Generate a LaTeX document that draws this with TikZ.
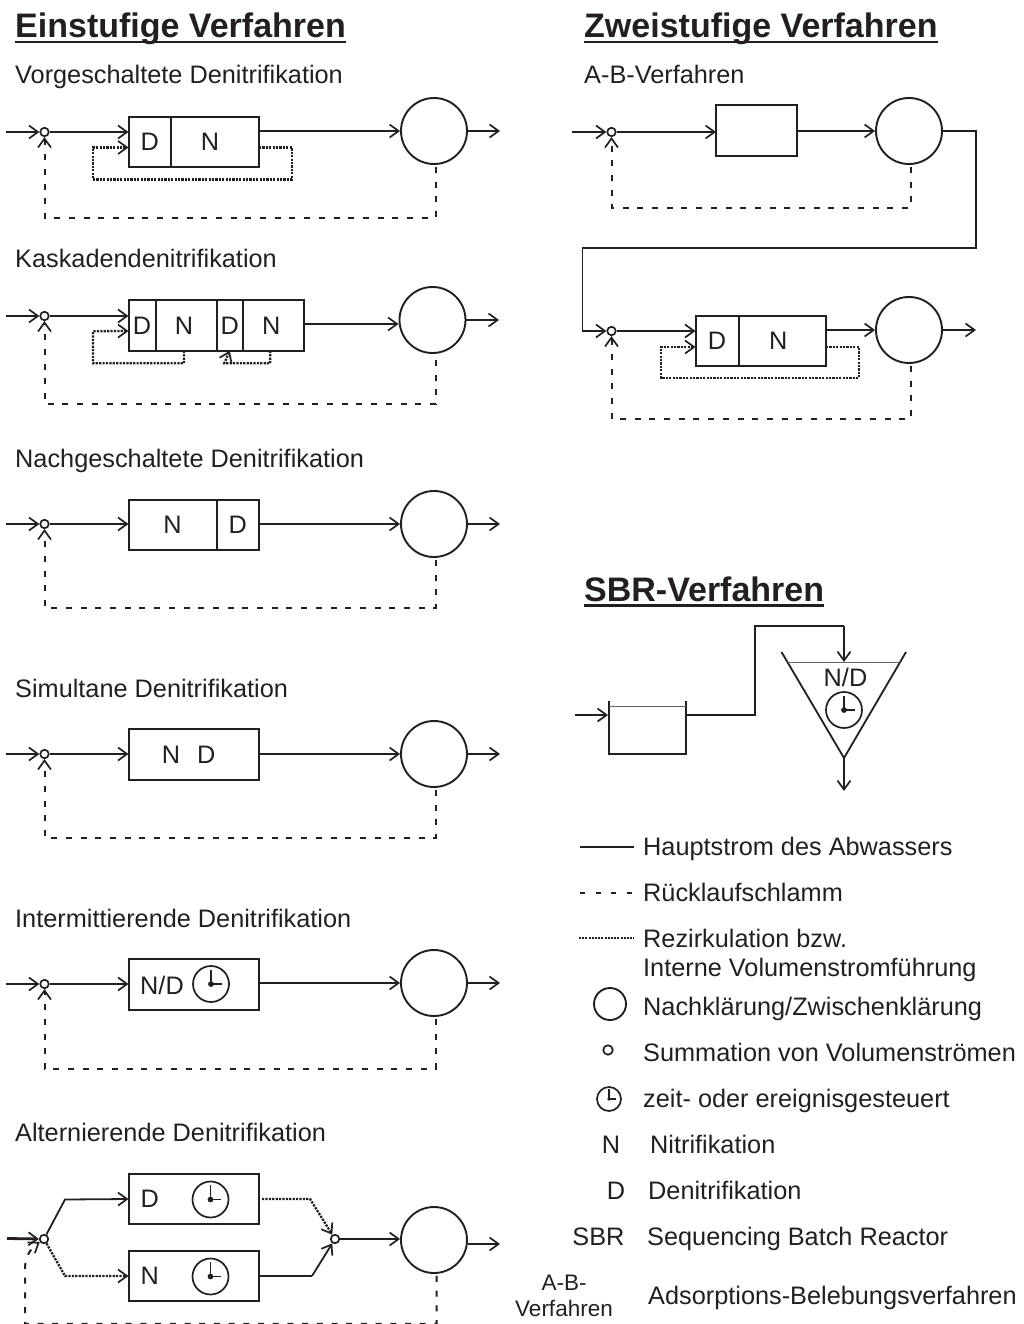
\documentclass[tikz,border=0pt]{standalone}
\usepackage{fontspec}
\setmainfont{Liberation Sans}
\usetikzlibrary{arrows.meta,positioning}
\definecolor{ink}{HTML}{231F20}
\newcommand{\ttlrule}[1]{\setbox0=\hbox{\bfseries #1}\rlap{\copy0}\rule[-5.5pt]{\wd0}{2.8pt}}

\begin{document}
\begin{tikzpicture}[
  x=1pt, y=-1pt,
  color=ink,
  font=\fontsize{25.3}{29}\selectfont,
  cell/.style={draw, minimum height=50.5pt, inner sep=0pt, outer sep=0pt, line width=2pt},
  sumpt/.style={draw, circle, inner sep=0pt, minimum size=8.5pt, line width=1.7pt},
  clarif/.style={draw, circle, inner sep=0pt, minimum size=66pt, line width=1.9pt},
  clock/.style={draw, circle, inner sep=0pt, minimum size=2*#1, line width=1.7pt,
    path picture={\draw[line width=1.6pt] ([yshift=.8*#1]path picture bounding box.center)
      -- (path picture bounding box.center) -- ++(.6*#1,0);
      \fill (path picture bounding box.center) circle (.16*#1);}},
  clock/.default=18pt,
  txt/.style={anchor=base west, inner sep=0pt},
  ttl/.style={anchor=base west, inner sep=0pt, font=\fontsize{34}{40}\selectfont},
  main/.style={line width=1.8pt},
  heavy/.style={line width=2.8pt},
  ret/.style={line width=2pt, dash pattern=on 6pt off 8.7pt},
  rez/.style={line width=2.3pt, dash pattern=on 2.2pt off 1.2pt},
  >={Straight Barb[length=9pt,width=13pt,line width=1.7pt]}
]
\useasboundingbox (0,0) rectangle (1024,1324);

\node[ttl] (einst) at (15,38) {\ttlrule{Einstufige Verfahren}};
\node[ttl] (zweist) at (584,38) {\ttlrule{Zweistufige Verfahren}};
\node[ttl] (sbrt) at (584,601) {\ttlrule{SBR-Verfahren}};

% vorgeschaltet
\node[txt] (t1) at (15,84) {Vorgeschaltete Denitrifikation};
\coordinate (in1) at (6,132);
\node[sumpt] (sum1) at (44.5,132) {};
\node[cell, minimum width=42.5pt, anchor=west] (d1) at (128.5,142) {D};
\node[cell, minimum width=88pt, right=0pt of d1] (n1) {N\kern10pt};
\node[clarif] (cl1) at (434,131) {};
\coordinate (out1) at (500,131);
\draw[main,->] (in1) -- (sum1);
\draw[main,->] (sum1) -- (sum1 -| d1.west);
\draw[main,->] (n1.east |- cl1.west) -- (cl1.west);
\draw[main,->] (cl1.east) -- (out1);
\draw[ret,->] ([xshift=1.5pt,yshift=-2pt]cl1.south) -- ++(0,51) -| (sum1.south);
\draw[rez,->] ([yshift=-5.5pt]n1.east) -- ++(33,0) -- ++(0,32) -- ++(-199,0) -- ++(0,-32) -- ([yshift=-5.5pt]d1.west);

% kaskade
\node[txt] (t2) at (15,268) {Kaskadendenitrifikation};
\coordinate (in2) at (6,316);
\node[sumpt] (sum2) at (44.5,316) {};
\node[cell, minimum width=27pt, anchor=west] (d2a) at (128.5,325.5) {D};
\node[cell, minimum width=61pt, right=0pt of d2a] (n2a) {N\kern4pt};
\node[cell, minimum width=26.5pt, right=0pt of n2a] (d2b) {D};
\node[cell, minimum width=60.5pt, right=0pt of d2b] (n2b) {N\kern4pt};
\node[clarif] (cl2) at (432.5,320) {};
\coordinate (out2) at (499,320);
\draw[heavy,->] (in2) -- (sum2);
\draw[main,->] (sum2) -- (sum2 -| d2a.west);
\draw[main,->] ([yshift=1.5pt]n2b.east) -- ([yshift=1.5pt]cl2.west |- n2b.east);
\draw[main,->] (cl2.east) -- (out2);
\draw[ret,->] ([xshift=3pt,yshift=-6pt]cl2.south) -- ++(0,44.5) -| (sum2.south);
\draw[rez,->] ([xshift=-2pt]n2a.south) -- ++(0,12.5) -- ++(-91,0) -- ++(0,-32) -- ([yshift=-5.5pt]d2a.west);
\draw[rez,->] ([xshift=-3pt]n2b.south) -- ++(0,12.5) -- ++(-46,0) -- (d2b.south);

% nachgeschaltet
\node[txt] (t3) at (15,467) {Nachgeschaltete Denitrifikation};
\coordinate (in3) at (6,524);
\node[sumpt] (sum3) at (44.5,524) {};
\node[cell, minimum width=88pt, anchor=west] (n3) at (128.5,525) {N};
\node[cell, minimum width=42.5pt, right=0pt of n3] (d3) {D};
\node[clarif] (cl3) at (434,524) {};
\coordinate (out3) at (500,524);
\draw[main,->] (in3) -- (sum3);
\draw[main,->] (sum3) -- (sum3 -| n3.west);
\draw[main,->] (d3.east |- cl3.west) -- (cl3.west);
\draw[main,->] (cl3.east) -- (out3);
\draw[ret,->] ([xshift=1.5pt,yshift=-2pt]cl3.south) -- ++(0,48) -| (sum3.south);

% simultan
\node[txt] (t4) at (15,697) {Simultane Denitrifikation};
\coordinate (in4) at (6,754);
\node[sumpt] (sum4) at (44.5,754) {};
\node[cell, minimum width=130.5pt, anchor=west] (nd4) at (128.5,754.5) {N\hspace{17pt}D\kern10pt};
\node[clarif] (cl4) at (434,754) {};
\coordinate (out4) at (500,754);
\draw[main,->] (in4) -- (sum4);
\draw[main,->] (sum4) -- (sum4 -| nd4.west);
\draw[main,->] (nd4.east |- cl4.west) -- (cl4.west);
\draw[main,->] (cl4.east) -- (out4);
\draw[ret,->] ([xshift=1.5pt,yshift=-2pt]cl4.south) -- ++(0,48) -| (sum4.south);

% intermittierend
\node[txt] (t5) at (15,927) {Intermittierende Denitrifikation};
\coordinate (in5) at (6,984);
\node[sumpt] (sum5) at (44.5,984) {};
\node[cell, minimum width=130.5pt, anchor=west] (nd5) at (128.5,984.5) {};
\node (ndt5) at (162,985) {N/D};
\node[clock] (clk5) at (211,984) {};
\node[clarif] (cl5) at (434,983) {};
\coordinate (out5) at (500,983);
\draw[main,->] (in5) -- (sum5);
\draw[main,->] (sum5) -- (sum5 -| nd5.west);
\draw[main,->] (nd5.east |- cl5.west) -- (cl5.west);
\draw[main,->] (cl5.east) -- (out5);
\draw[ret,->] ([xshift=1.5pt,yshift=-2pt]cl5.south) -- ++(0,50) -| (sum5.south);

% alternierend
\node[txt] (t6) at (15,1141) {Alternierende Denitrifikation};
\coordinate (in6) at (7,1238.5);
\node[sumpt] (sum6) at (44,1239) {};
\node[sumpt] (sum6b) at (335,1239) {};
\node[cell, minimum width=130.5pt, anchor=west] (d6) at (128.5,1199) {D\kern88pt};
\node[cell, minimum width=130.5pt, anchor=west] (n6) at (128.5,1276) {N\kern88pt};
\node[clock] (clk6a) at (210.5,1199.5) {};
\node[clock] (clk6b) at (210.5,1276.5) {};
\node[clarif] (cl6) at (434,1240) {};
\coordinate (out6) at (500,1244);
\draw[heavy,->] (in6) -- (sum6);
\draw[main,->] (sum6) -- ++(21,-39.5) -- (d6.west);
\draw[rez,->] (sum6) -- ++(21,37) -- (n6.west);
\draw[rez,->] ([xshift=3pt]d6.east) -- ++(48,0) -- (sum6b);
\draw[heavy] (n6.east) -- ++(53,0) coordinate (bend6);
\draw[main,->] (bend6) -- (sum6b);
\draw[heavy,->] (sum6b) -- (cl6.west |- sum6b);
\draw[main,->] ([yshift=-4pt]cl6.east) -- (out6);
\draw[ret,->] ([xshift=2.5pt,yshift=-2pt]cl6.south) -- ++(0,48) -- ++(-411.5,0) -- ++(0,-55)
  .. controls ++(0,-9) and (28,1250) .. (sum6);

% zweistufig
\node[txt] (t7) at (584,84) {A-B-Verfahren};
\coordinate (in7) at (572,132);
\node[sumpt] (sum7) at (611.5,132) {};
\node[cell, minimum width=80.5pt, anchor=west] (ab7) at (716,130.5) {};
\node[clarif] (cl7) at (909,131) {};
\draw[main,->] (in7) -- (sum7);
\draw[main,->] (sum7) -- (sum7 -| ab7.west);
\draw[main,->] (ab7.east |- cl7.west) -- (cl7.west);
\draw[ret,->] ([xshift=2pt,yshift=-2pt]cl7.south) -- ++(0,41) -| (sum7.south);

\node[sumpt] (sum8) at (611.5,331) {};
\node[cell, minimum width=43pt, anchor=west] (d8) at (695.5,341) {D};
\node[cell, minimum width=87.5pt, right=0pt of d8] (n8) {N\kern8pt};
\node[clarif] (cl8) at (909,330) {};
\coordinate (out8) at (976,330);
\draw[main,->] (cl7.east) -- ++(33,0) -- ++(0,117) -- ++(-393.5,0) -- ++(0,83) -- (sum8);
\draw[main,->] (sum8) -- (sum8 -| d8.west);
\draw[heavy,->] (n8.east |- cl8.west) -- (cl8.west);
\draw[main,->] (cl8.east) -- (out8);
\draw[ret,->] ([xshift=2pt,yshift=-2pt]cl8.south) -- ++(0,53) -| (sum8.south);
\draw[rez,->] ([yshift=-6pt]n8.east) -- ++(33,0) -- ++(0,31) -- ++(-198,0) -- ++(0,-31) -- ([yshift=-6pt]d8.west);

% sbr
\coordinate (in9) at (575,715);
\coordinate (tk9) at (608,715);
\coordinate (tko9) at (686,715);
\coordinate (ftop9) at (844,662);
\coordinate (fapx9) at (844,758);
\coordinate (out9) at (844,791);
\draw[main] (609,700.5) -- (609,754) -- (686,754) -- (686,700.5);
\draw[line width=.9pt, ink!70] (609,706.5) -- (686,706.5);
\draw[main] (781.5,652) -- (fapx9) -- (906,652);
\draw[line width=.9pt, ink!70] (788,662) -- (900,662);
\node (nd9) at (845.5,677) {N/D};
\node[clock] (clk9) at (844,710) {};
\draw[main,->] (in9) -- (tk9);
\draw[main] (tko9) -- ++(69,0) -- ++(0,-89) -- ++(89,0) coordinate (bend9);
\draw[main,->] (bend9) -- (ftop9);
\draw[main,->] (fapx9) -- (out9);

% legende
\coordinate (lg1) at (580,847);
\coordinate (lg2) at (580,893);
\coordinate (lg3) at (579,938);
\draw[line width=2.4pt] (lg1) -- ++(54,0);
\draw[line width=1.6pt, dash pattern=on 5pt off 10.5pt] (lg2) -- ++(52,0);
\draw[line width=1.9pt, dash pattern=on 2pt off 1.2pt] (lg3) -- ++(55,0);
\node[txt] (lt1) at (643,855) {Hauptstrom des Abwassers};
\node[txt] (lt2) at (643,901) {Rücklaufschlamm};
\node[txt] (lt3) at (643,947) {Rezirkulation bzw.};
\node[txt] (lt3b) at (643,976) {Interne Volumenstromführung};
\node[clarif, minimum size=32pt] (lg4) at (610,1004) {};
\node[txt] (lt4) at (643,1015) {Nachklärung/Zwischenklärung};
\node[sumpt, minimum size=9.5pt] (lg5) at (608,1050) {};
\node[txt] (lt5) at (643,1061) {Summation von Volumenströmen};
\node[clock=12pt] (lg6) at (609,1099) {};
\node[txt] (lt6) at (643,1107) {zeit- oder ereignisgesteuert};
\node (lg7) at (611,1145) {N};
\node[txt] (lt7) at (650,1153) {Nitrifikation};
\node (lg8) at (616,1191) {D};
\node[txt] (lt8) at (648,1199) {Denitrifikation};
\node (lg9) at (598.5,1237) {SBR};
\node[txt] (lt9) at (647,1245) {Sequencing Batch Reactor};
\node[align=center, inner sep=0pt, font=\fontsize{22.5}{26}\selectfont] (lg10) at (564,1296) {A-B-\\Verfahren};
\node[txt] (lt10) at (648,1304) {Adsorptions-Belebungsverfahren};
\end{tikzpicture}
\end{document}
